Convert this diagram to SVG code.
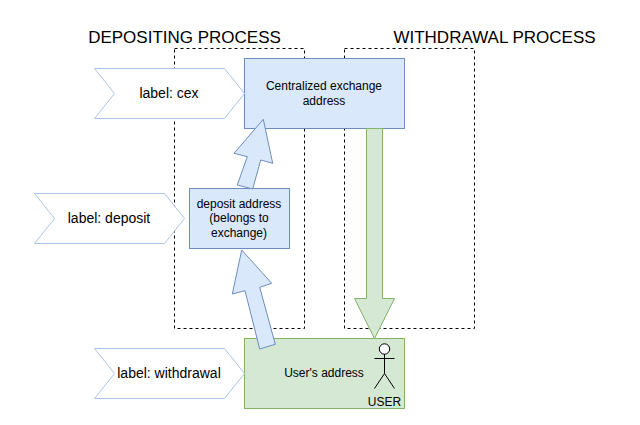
<svg xmlns="http://www.w3.org/2000/svg" width="640" height="425" viewBox="0 0 640 425">
<style>
text{font-family:"Liberation Sans",Arial,sans-serif;fill:#000;text-anchor:middle}
.t{font-size:12px}.l{font-size:14px}.h{font-size:17px}
.dash{fill:none;stroke:#000;stroke-width:1;stroke-dasharray:3 3}
.blue{fill:#dae8fc;stroke:#6c8ebf;stroke-width:1}
.green{fill:#d5e8d4;stroke:#82b366;stroke-width:1}
.tag{fill:#fff;stroke:#a9c4eb;stroke-width:1}
.head{fill:#fff;stroke:#000;stroke-width:1}
.limbs{fill:none;stroke:#000;stroke-width:1}
</style>
<rect width="640" height="425" fill="#fff"/>
<g id="region-deposit"><rect class="dash" x="174.5" y="48.5" width="130" height="280"/><text class="h" x="184.5" y="43">DEPOSITING PROCESS</text></g>
<g id="region-withdrawal"><rect class="dash" x="344.5" y="48.5" width="130" height="280"/><text class="h" x="494.5" y="43">WITHDRAWAL PROCESS</text></g>
<g id="node-cex"><rect class="blue" x="244.5" y="58.5" width="160" height="70"/><text class="t" x="324" y="90">Centralized exchange</text><text class="t" x="324" y="105">address</text></g>
<g id="node-deposit"><rect class="blue" x="189.5" y="188.5" width="100" height="60"/><text class="t" x="239" y="208">deposit address</text><text class="t" x="239" y="222">(belongs to</text><text class="t" x="239" y="237">exchange)</text></g>
<g id="node-user"><rect class="green" x="244.5" y="338.5" width="160" height="70"/><text class="t" x="324" y="377">User's address</text></g>
<g id="connectors">
<polygon class="blue" points="263.3,119.3 272.7,163.3 260.7,160 252.7,189 237.3,185 247.3,156.7 234,153.3"/>
<polygon class="blue" points="241.7,250 271.7,283.3 259.7,287.3 275.3,344.3 259.7,349 245,290.7 232.3,294"/>
<polygon class="green" points="366.5,128.5 382.5,128.5 382.5,298.5 394.5,298.5 374.5,338.5 354.5,298.5 366.5,298.5"/>
</g>
<g id="label-cex"><polygon class="tag" points="94.5,68.5 224.5,68.5 244.5,93.5 224.5,118.5 94.5,118.5 114.5,93.5"/><text class="l" x="169" y="98">label: cex</text></g>
<g id="label-deposit"><polygon class="tag" points="34.5,193.5 164.5,193.5 184.5,218.5 164.5,243.5 34.5,243.5 54.5,218.5"/><text class="l" x="109" y="223">label: deposit</text></g>
<g id="label-withdrawal"><polygon class="tag" points="94.5,348.5 224.5,348.5 244.5,373.5 224.5,398.5 94.5,398.5 114.5,373.5"/><text class="l" x="169" y="378">label: withdrawal</text></g>
<g id="actor-user"><circle class="head" cx="384.5" cy="349" r="5.2"/><path class="limbs" d="M384.5 354V373.5M374.5 358.5H394.5M374.5 388.5L384.5 373.5L394.5 388.5"/><text class="t" x="384.5" y="406">USER</text></g>
</svg>
